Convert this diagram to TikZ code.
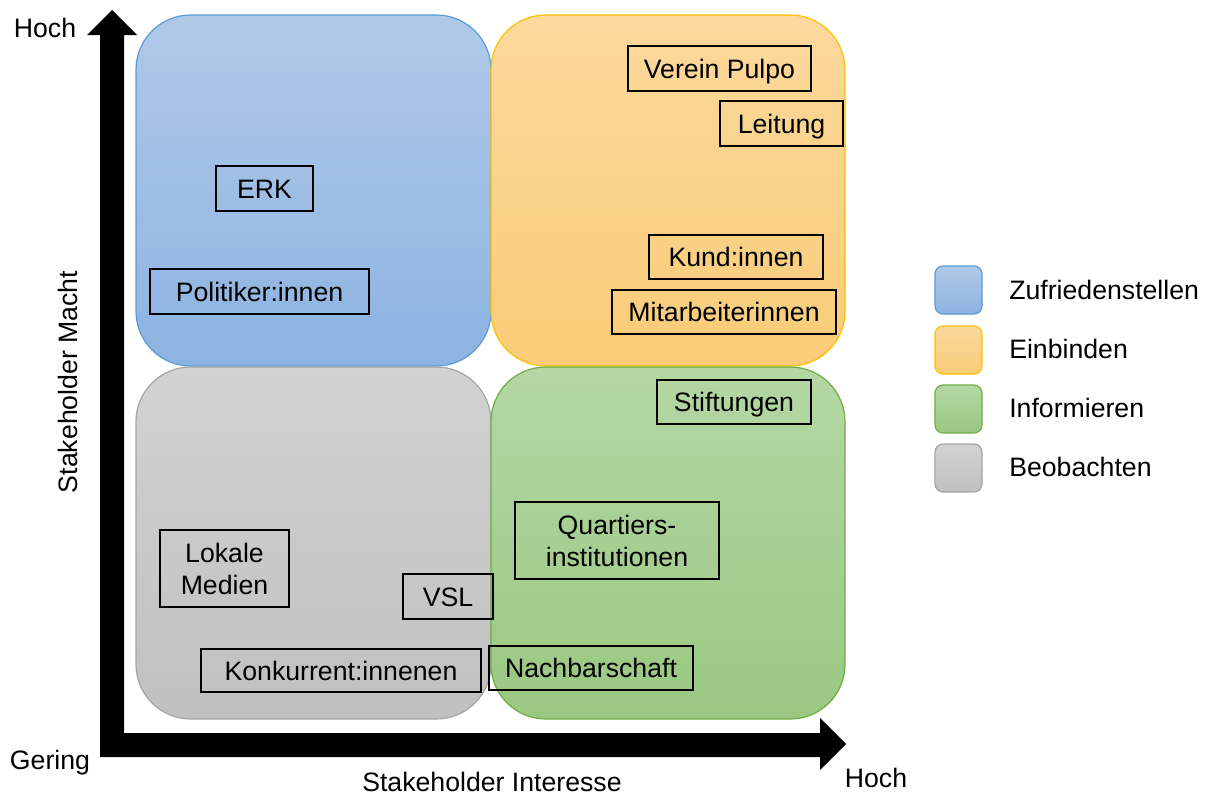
\documentclass[tikz,border=0pt]{standalone}
\usepackage{fontspec}
\setmainfont{Liberation Sans}
\begin{document}
\begin{tikzpicture}[x=0.75pt,y=-0.75pt,
  lbl/.style={draw=black,line width=1.1pt,inner sep=0pt,align=center,font=\fontsize{20}{24}\selectfont},
  one/.style={text height=14.3pt,text depth=0pt},
  txt/.style={inner sep=0pt,font=\fontsize{20}{24}\selectfont},
  quad/.style={line width=0.9pt,rounded corners=41pt},
  leg/.style={line width=0.9pt,rounded corners=6pt}]
\definecolor{bTop}{HTML}{B0C9E8}\definecolor{bBot}{HTML}{8DB3E2}\definecolor{bLine}{HTML}{5B9BD5}
\definecolor{oTop}{HTML}{FBD89C}\definecolor{oBot}{HTML}{F9CC78}\definecolor{oLine}{HTML}{FFC000}
\definecolor{gTop}{HTML}{B4D7A4}\definecolor{gBot}{HTML}{9AC782}\definecolor{gLine}{HTML}{70AD47}
\definecolor{yTop}{HTML}{D2D2D2}\definecolor{yBot}{HTML}{C0C0C0}\definecolor{yLine}{HTML}{A5A5A5}
\useasboundingbox (0,0) rectangle (1209,796);
% quadrants
\shade[quad,top color=bTop,bottom color=bBot,draw=bLine] (136,15) rectangle (491,366);
\shade[quad,top color=oTop,bottom color=oBot,draw=oLine] (491,15) rectangle (845,366);
\shade[quad,top color=yTop,bottom color=yBot,draw=yLine] (136,367) rectangle (491,719);
\shade[quad,top color=gTop,bottom color=gBot,draw=gLine] (491,367) rectangle (845,719);
% axes
\fill[black] (112,10) -- (137,35) -- (124,35) -- (124,733) -- (820,733) -- (820,718) -- (846,744)
  -- (820,770) -- (820,757) -- (100,757) -- (100,35) -- (87,35) -- cycle;
\node[txt] (hochy) at (45,28) {Hoch};
\node[txt] (gering) at (50,763) {Gering};
\node[txt] (xlabel) at (492,782) {Stakeholder Interesse};
\node[txt] (hochx) at (876,778) {Hoch};
\node[txt,rotate=90] (ylabel) at (68,382) {Stakeholder Macht};
% stakeholder boxes
\node[lbl,one,minimum width=72.75pt,minimum height=33.75pt] (erk) at (264.5,188.5) {ERK};
\node[lbl,one,minimum width=164.25pt,minimum height=33.75pt] (pol) at (259.5,291.5) {Politiker:innen};
\node[lbl,one,minimum width=137.25pt,minimum height=33.75pt] (verein) at (719.5,68.5) {Verein Pulpo};
\node[lbl,one,minimum width=92.25pt,minimum height=33.75pt] (leitung) at (781.5,123.5) {Leitung};
\node[lbl,one,minimum width=130.5pt,minimum height=33pt] (kund) at (736,257) {Kund:innen};
\node[lbl,one,minimum width=168pt,minimum height=33pt] (mitarb) at (724,312) {Mitarbeiterinnen};
\node[lbl,one,minimum width=115.5pt,minimum height=33pt] (stift) at (734,402) {Stiftungen};
\node[lbl,minimum width=153pt,minimum height=57.75pt] (quart) at (617,540.5) {Quartiers-\\institutionen};
\node[lbl,minimum width=96.75pt,minimum height=57.75pt] (medien) at (224.5,568.5) {Lokale\\Medien};
\node[lbl,one,minimum width=67.5pt,minimum height=33.75pt] (vsl) at (448,596.5) {VSL};
\node[lbl,one,minimum width=210pt,minimum height=32.25pt] (konk) at (341,670.5) {Konkurrent:innenen};
\node[lbl,one,minimum width=153pt,minimum height=33pt] (nachb) at (591,668) {Nachbarschaft};
% legend
\shade[leg,top color=bTop,bottom color=bBot,draw=bLine] (935,266) rectangle (982,314);
\shade[leg,top color=oTop,bottom color=oBot,draw=oLine] (935,326) rectangle (982,374);
\shade[leg,top color=gTop,bottom color=gBot,draw=gLine] (935,385) rectangle (982,433);
\shade[leg,top color=yTop,bottom color=yBot,draw=yLine] (935,444) rectangle (982,492);
\node[txt,anchor=west] (l1) at (1009,290) {Zufriedenstellen};
\node[txt,anchor=west] (l2) at (1009,349) {Einbinden};
\node[txt,anchor=west] (l3) at (1009,408) {Informieren};
\node[txt,anchor=west] (l4) at (1009,467) {Beobachten};
\end{tikzpicture}
\end{document}
